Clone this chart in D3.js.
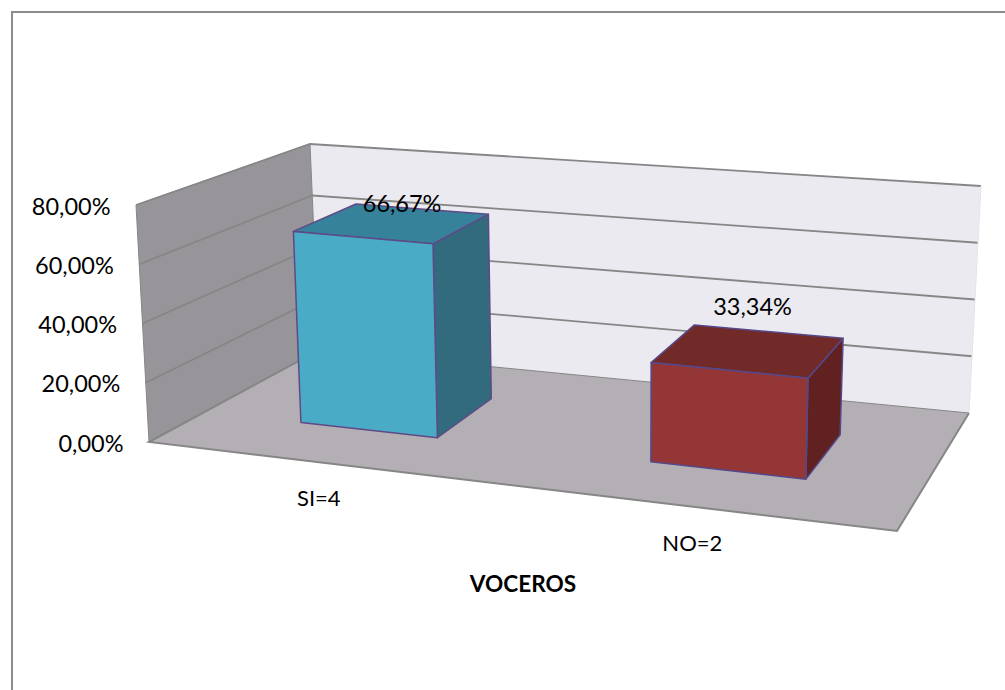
<!DOCTYPE html>
<html>
<head>
<meta charset="utf-8">
<script src="https://cdnjs.cloudflare.com/ajax/libs/d3/7.8.5/d3.min.js"></script>
<style>
html,body{margin:0;padding:0;background:#fff}
svg{display:block}
text{font-family:Lato,"Open Sans",sans-serif;fill:#000}
</style>
</head>
<body>
<svg id="chart" width="1005" height="690"></svg>
<script>
// Chart values
const categories = ["SI=4", "NO=2"];
const values = [66.67, 33.34];
const valueLabels = ["66,67%", "33,34%"];
const axisTicks = [0, 20, 40, 60, 80];
const axisTitle = "VOCEROS";

// Box corners of the 3D plot: [front/back][left/right][floor/ceiling]
const box = {
  fl0: [149, 442], fr0: [897, 531], bl0: [319, 350], br0: [969, 413],
  fl1: [136, 205], fr1: [903, 277], bl1: [310, 144], br1: [981, 186]
};
const depthRange = [0.33, 0.72];
const mix = (a, b, t) => [a[0] + (b[0] - a[0]) * t, a[1] + (b[1] - a[1]) * t];

// u: along the categories, v: into the page, w: height
function project(u, v, w) {
  const floor = mix(mix(box.fl0, box.fr0, u), mix(box.bl0, box.br0, u), v);
  const ceil = mix(mix(box.fl1, box.fr1, u), mix(box.bl1, box.br1, u), v);
  return mix(floor, ceil, w);
}

const bandScale = d3.scaleBand().domain(categories).range([0.0215, 1]).paddingInner(0.591).paddingOuter(0.2955);
// The category axis is foreshortened towards its left end
const uScale = d3.scalePow().exponent(1.12).domain([0, 1]).range([0, 1]);
const wScale = d3.scaleLinear().domain([0, 80]).range([0, 1]);
const tickFormat = d => d3.format(".2f")(d).replace(".", ",") + "%";

const svg = d3.select("#chart");
const poly = pts => d3.line()(pts);

// Outer frame, open on the right and at the bottom
svg.append("path").attr("d", "M12,690V12H1005").attr("fill", "none").attr("stroke", "#8c8c8c").attr("stroke-width", 2);

// Walls and floor
const GRID = "#868686";
svg.append("path").attr("d", poly([box.bl0, box.br0, box.br1, box.bl1]) + "Z").attr("fill", "#ECEAF1");
svg.append("path").attr("d", poly([box.fl0, box.bl0, box.bl1, box.fl1]) + "Z").attr("fill", "#979599").attr("stroke", GRID).attr("stroke-width", 1);
svg.append("path").attr("d", poly([box.fl0, box.fr0, box.br0, box.bl0]) + "Z").attr("fill", "#B3AFB4");

// Gridlines along both walls
axisTicks.forEach(t => {
  const w = wScale(t);
  svg.append("path").attr("fill", "none").attr("stroke", GRID).attr("stroke-width", t === 0 ? 1 : 1.8)
    .attr("d", poly([project(0, 0, w), project(0, 1, w), project(1, 1, w)]));
});

// Edges of the floor towards the viewer
svg.append("path").attr("fill", "none").attr("stroke", GRID).attr("stroke-width", 2)
  .attr("d", poly([box.bl0, box.fl0, box.fr0, box.br0]));
svg.append("path").attr("fill", "none").attr("stroke", "#e4e3e8").attr("stroke-width", 1)
  .attr("d", poly([box.br0, box.br1]));

// Tick labels follow the front edge of the side wall
svg.selectAll("text.tick").data(axisTicks).join("text").attr("class", "tick")
  .attr("x", d => project(0, 0, wScale(d))[0] - 25.5)
  .attr("y", d => project(0, 0, wScale(d))[1] + 9.5)
  .attr("text-anchor", "end").attr("font-size", 23.5)
  .text(tickFormat);

// Bars: side, top and front faces
const palette = [
  { front: "#4AABC7", top: "#37829B", side: "#316B7D", edge: "#5F4A86" },
  { front: "#943635", top: "#722A29", side: "#622121", edge: "#55488A" }
];
const [v0, v1] = depthRange;
categories.forEach((c, i) => {
  const u0 = uScale(bandScale(c)), u1 = uScale(bandScale(c) + bandScale.bandwidth()), w = wScale(values[i]), col = palette[i];
  const face = (pts, fill) => svg.append("path").attr("d", poly(pts) + "Z")
    .attr("fill", fill).attr("stroke", col.edge).attr("stroke-width", 1.5).attr("stroke-linejoin", "round");
  face([project(u1, v0, 0), project(u1, v1, 0), project(u1, v1, w), project(u1, v0, w)], col.side);
  face([project(u0, v0, w), project(u1, v0, w), project(u1, v1, w), project(u0, v1, w)], col.top);
  face([project(u0, v0, 0), project(u1, v0, 0), project(u1, v0, w), project(u0, v0, w)], col.front);
});

const bandMid = c => uScale(bandScale(c) + bandScale.bandwidth() / 2);

// Value labels above each bar top
const valueNudge = [[11, -11], [4, -36]];
values.forEach((d, i) => {
  const p = project(bandMid(categories[i]), (v0 + v1) / 2, wScale(d));
  svg.append("text").attr("x", p[0] + valueNudge[i][0]).attr("y", p[1] + valueNudge[i][1])
    .attr("text-anchor", "middle").attr("font-size", 23.5).text(valueLabels[i]);
});

// Category labels below the front edge of the floor
const categoryNudge = [[0, 44], [-3, 44]];
categories.forEach((c, i) => {
  const p = project(bandMid(c), 0, 0);
  svg.append("text").attr("x", p[0] + categoryNudge[i][0]).attr("y", p[1] + categoryNudge[i][1])
    .attr("text-anchor", "middle").attr("font-size", 22).text(c);
});

// Axis title
svg.append("text").attr("x", 523).attr("y", 592).attr("text-anchor", "middle")
  .attr("font-size", 22.6).attr("font-weight", 700).text(axisTitle);
</script>
</body>
</html>
